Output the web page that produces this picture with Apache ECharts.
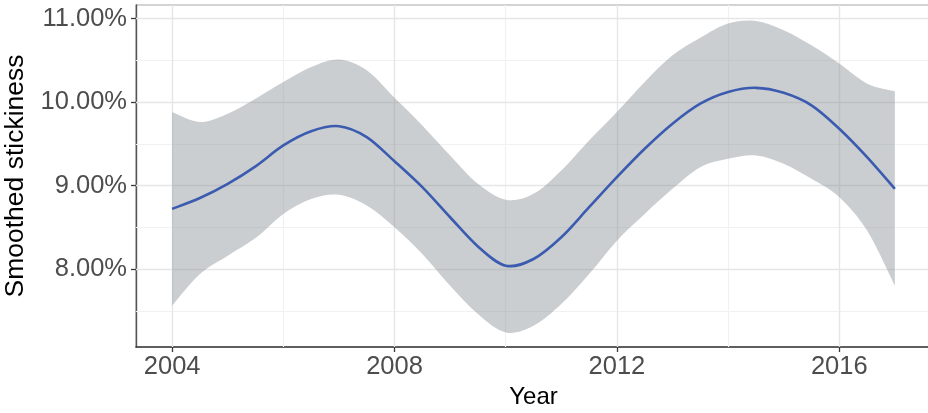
<!DOCTYPE html>
<html>
<head>
<meta charset="utf-8">
<script src="https://cdn.jsdelivr.net/npm/echarts@6/dist/echarts.min.js"></script>
<style>
  html, body { margin: 0; padding: 0; background: #ffffff; }
  #chart { width: 928px; height: 413px; }
</style>
</head>
<body>
<div id="chart"></div>
<script>
// Smoothed stickiness by year: fitted curve with its confidence band (percent)
const years = [2004, 2004.5, 2005, 2005.5, 2006, 2006.5, 2007, 2007.5, 2008, 2008.5,
               2009, 2009.5, 2010, 2010.5, 2011, 2011.5, 2012, 2012.5, 2013, 2013.5,
               2014, 2014.5, 2015, 2015.5, 2016, 2016.5, 2017];
const fitted = [8.72, 8.85, 9.02, 9.23, 9.48, 9.65, 9.71, 9.58, 9.29, 8.98,
                8.62, 8.27, 8.04, 8.12, 8.38, 8.74, 9.10, 9.44, 9.74, 9.98,
                10.12, 10.17, 10.11, 9.96, 9.68, 9.34, 8.96];
const bandUpper = [9.88, 9.76, 9.86, 10.04, 10.24, 10.42, 10.51, 10.38, 10.05, 9.72,
                   9.36, 9.02, 8.83, 8.90, 9.18, 9.54, 9.88, 10.24, 10.56, 10.77,
                   10.94, 10.97, 10.86, 10.68, 10.46, 10.22, 10.13];
const bandLower = [7.56, 7.94, 8.16, 8.37, 8.66, 8.84, 8.89, 8.76, 8.50, 8.18,
                   7.80, 7.46, 7.24, 7.32, 7.58, 7.94, 8.34, 8.66, 8.96, 9.22,
                   9.32, 9.36, 9.26, 9.08, 8.86, 8.46, 7.80];

const xTicks = [2004, 2008, 2012, 2016];
const xMinor = [2006, 2010, 2014];
const yTicks = [8, 9, 10, 11];
const yMinor = [7.5, 8.5, 9.5, 10.5];

const FONT = "'Liberation Sans', Arial, sans-serif";
const MAJOR = '#e6e6e6';
const MINOR = '#f1f1f1';

const bandData = years.map((x, i) => [x, bandLower[i], bandUpper[i]]);
const fitData = years.map((x, i) => [x, fitted[i]]);

const gridLines = []
  .concat(yMinor.map(v => ({ yAxis: v, lineStyle: { color: MINOR, width: 1.2 } })))
  .concat(xMinor.map(v => ({ xAxis: v, lineStyle: { color: MINOR, width: 1.2 } })))
  .concat(yTicks.map(v => ({ yAxis: v, lineStyle: { color: MAJOR, width: 1.4 } })))
  .concat(xTicks.map(v => ({ xAxis: v, lineStyle: { color: MAJOR, width: 1.4 } })));

// Catmull-Rom spline through pixel points, as cubic Bezier path commands
function splineCmds(pts, first) {
  let d = (first ? 'M' : 'L') + pts[0][0] + ',' + pts[0][1];
  for (let i = 0; i < pts.length - 1; i++) {
    const p0 = pts[Math.max(i - 1, 0)];
    const p1 = pts[i];
    const p2 = pts[i + 1];
    const p3 = pts[Math.min(i + 2, pts.length - 1)];
    const c1x = p1[0] + (p2[0] - p0[0]) / 6, c1y = p1[1] + (p2[1] - p0[1]) / 6;
    const c2x = p2[0] - (p3[0] - p1[0]) / 6, c2y = p2[1] - (p3[1] - p1[1]) / 6;
    d += 'C' + c1x + ',' + c1y + ',' + c2x + ',' + c2y + ',' + p2[0] + ',' + p2[1];
  }
  return d;
}

function renderBand(params, api) {
  if (params.dataIndex !== 0) return null;
  const upper = bandData.map(r => api.coord([r[0], r[2]]));
  const lower = bandData.map(r => api.coord([r[0], r[1]])).reverse();
  return {
    type: 'path',
    shape: { pathData: splineCmds(upper, true) + splineCmds(lower, false) + 'Z' },
    style: { fill: 'rgba(140,147,150,0.45)', stroke: null },
    silent: true
  };
}

function renderFit(params, api) {
  if (params.dataIndex !== 0) return null;
  const pts = fitData.map(r => api.coord(r));
  return {
    type: 'path',
    shape: { pathData: splineCmds(pts, true) },
    style: { fill: null, stroke: '#3a5bb0', lineWidth: 2.6, lineJoin: 'round', lineCap: 'butt' },
    silent: true
  };
}

const chart = echarts.init(document.getElementById('chart'), null, { renderer: 'canvas' });

chart.setOption({
  animation: false,
  backgroundColor: '#ffffff',
  grid: {
    left: 136, right: -3, top: 5, bottom: 66,
    containLabel: false,
    outerBoundsMode: 'none',
    show: true, borderColor: '#a8a8a8', borderWidth: 1.2, backgroundColor: 'transparent'
  },
  xAxis: {
    type: 'value',
    min: 2003.35, max: 2017.65,
    name: 'Year',
    nameLocation: 'middle',
    nameGap: 36,
    nameTextStyle: { fontFamily: FONT, fontSize: 24, color: '#000000' },
    axisLine: { show: true, onZero: false, lineStyle: { color: '#3a3a3a', width: 1.6 } },
    axisTick: { show: true, length: 5, customValues: xTicks, lineStyle: { color: '#3a3a3a', width: 1.3 } },
    axisLabel: {
      customValues: xTicks, margin: 7,
      fontFamily: FONT, fontSize: 25.5, color: '#4d4d4d',
      formatter: v => String(v)
    },
    splitLine: { show: false }
  },
  yAxis: {
    type: 'value',
    min: 7.066, max: 11.162,
    name: 'Smoothed stickiness',
    nameLocation: 'middle',
    nameGap: 104,
    nameTextStyle: { fontFamily: FONT, fontSize: 26.5, color: '#000000' },
    axisLine: { show: true, onZero: false, lineStyle: { color: '#555555', width: 1.4 } },
    axisTick: { show: true, length: 5, customValues: yTicks, lineStyle: { color: '#3a3a3a', width: 1.3 } },
    axisLabel: {
      customValues: yTicks, margin: 9,
      fontFamily: FONT, fontSize: 25.5, color: '#4d4d4d',
      formatter: v => v.toFixed(2) + '%'
    },
    splitLine: { show: false }
  },
  series: [
    {
      // panel grid lines (major and minor), drawn beneath everything else
      type: 'line',
      z: 1,
      data: [],
      silent: true,
      markLine: {
        z: 1,
        silent: true,
        symbol: 'none',
        label: { show: false },
        lineStyle: { type: 'solid' },
        data: gridLines
      }
    },
    {
      // confidence band
      type: 'custom',
      z: 2,
      silent: true,
      data: bandData,
      encode: { x: 0, y: [1, 2] },
      renderItem: renderBand
    },
    {
      // fitted curve
      type: 'custom',
      z: 3,
      silent: true,
      data: fitData,
      encode: { x: 0, y: 1 },
      renderItem: renderFit
    }
  ]
});
</script>
</body>
</html>
